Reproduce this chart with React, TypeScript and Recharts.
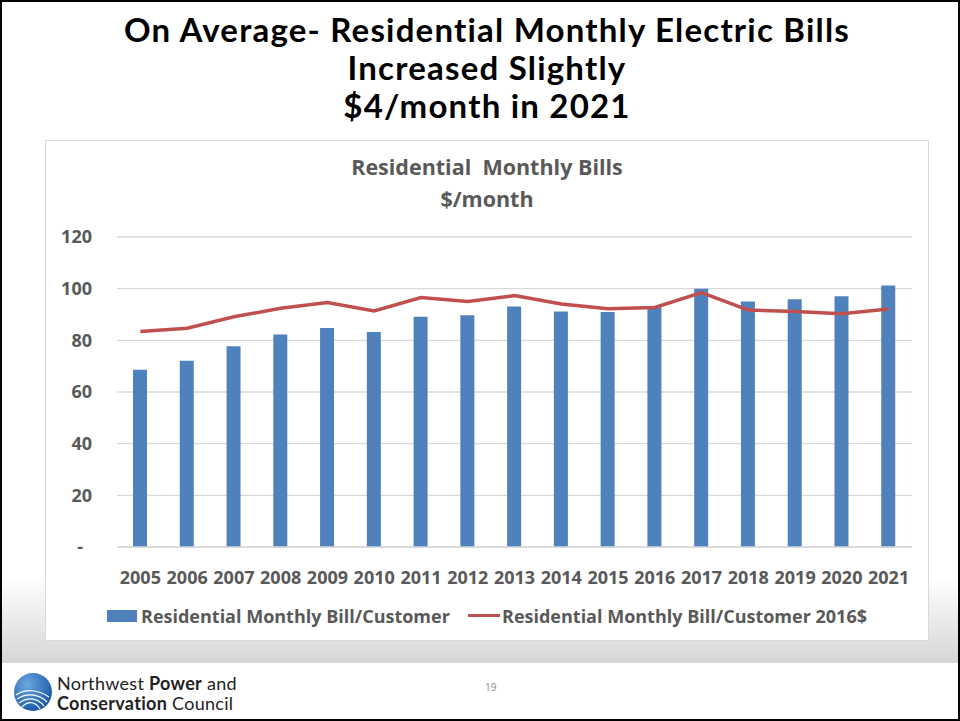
import { ComposedChart, Bar, Line, XAxis, YAxis, CartesianGrid, Legend } from "recharts";

// values ($/month)
const years = [
  "2005", "2006", "2007", "2008", "2009", "2010", "2011", "2012", "2013",
  "2014", "2015", "2016", "2017", "2018", "2019", "2020", "2021",
];
const billPerCustomer = [
  68.6, 72.1, 77.7, 82.3, 84.8, 83.2, 89.1, 89.7, 93.1,
  91.2, 91.0, 92.8, 100.0, 95.0, 95.9, 97.1, 101.2,
];
const billPerCustomer2016 = [
  83.4, 84.7, 89.1, 92.4, 94.6, 91.4, 96.6, 95.0, 97.3,
  94.1, 92.2, 92.7, 98.5, 91.7, 91.2, 90.3, 92.1,
];
const yTicks = [0, 20, 40, 60, 80, 100, 120];

const BAR_NAME = "Residential Monthly Bill/Customer";
const LINE_NAME = "Residential Monthly Bill/Customer 2016$";

const data = years.map((year, i) => ({
  year,
  bill: billPerCustomer[i],
  real: billPerCustomer2016[i],
}));

const chartFont = "'Open Sans', 'DejaVu Sans', sans-serif";
const titleFont = "Lato, 'DejaVu Sans', sans-serif";
const gray = "#595959";
const blue = "#4f81bd";
const red = "#c0504d";

function YTick({ x, y, payload }: any) {
  const v = payload.value;
  return (
    <text
      x={v === 0 ? x - 9 : x}
      y={y}
      dy="0.36em"
      textAnchor="end"
      fill={gray}
      fontSize={18}
      fontWeight={700}
      fontFamily={chartFont}
    >
      {v === 0 ? "-" : v}
    </text>
  );
}

function ChartLegend() {
  const text = {
    position: "absolute" as const,
    top: 17,
    fontSize: 18,
    fontWeight: 700,
    color: gray,
    fontFamily: chartFont,
    lineHeight: "24px",
    whiteSpace: "nowrap" as const,
  };
  return (
    <div style={{ position: "relative", height: 54, width: 884 }}>
      <div style={{ position: "absolute", left: 62, top: 23, width: 30, height: 12, background: blue }} />
      <span style={{ ...text, left: 96 }}>{BAR_NAME}</span>
      <div style={{ position: "absolute", left: 423, top: 27, width: 32, height: 3, background: red }} />
      <span style={{ ...text, left: 457 }}>{LINE_NAME}</span>
    </div>
  );
}

function Logo() {
  return (
    <svg width={40} height={42} viewBox="0 0 40 42" style={{ position: "absolute", left: 13, top: 671 }}>
      <defs>
        <radialGradient id="lg" cx="0.35" cy="0.3" r="0.8">
          <stop offset="0" stopColor="#6aa8e0" />
          <stop offset="1" stopColor="#1550a0" />
        </radialGradient>
      </defs>
      <circle cx={20} cy={21} r={19} fill="url(#lg)" />
      <path d="M3 24 C 12 18, 24 18, 36 26" stroke="#fff" strokeWidth={1.2} fill="none" />
      <path d="M4 28 C 13 22, 25 22, 34 31" stroke="#fff" strokeWidth={1.2} fill="none" />
      <path d="M6 32 C 14 26, 24 26, 31 35" stroke="#fff" strokeWidth={1.2} fill="none" />
      <path d="M9 36 C 15 30, 22 30, 27 38" stroke="#fff" strokeWidth={1.2} fill="none" />
    </svg>
  );
}

export default function App() {
  const titleLine = {
    position: "absolute" as const,
    left: 0,
    width: 974,
    textAlign: "center" as const,
    fontFamily: titleFont,
    fontWeight: 700,
    fontSize: 33,
    letterSpacing: 1.2,
    lineHeight: "38px",
    color: "#000",
  };
  const subTitle = {
    position: "absolute" as const,
    left: 45,
    width: 884,
    textAlign: "center" as const,
    fontFamily: chartFont,
    fontWeight: 700,
    fontSize: 21.5,
    lineHeight: "30px",
    color: gray,
  };
  return (
    <div
      style={{
        position: "absolute",
        left: 0,
        top: 0,
        width: 960,
        height: 721,
        boxSizing: "border-box",
        border: "2px solid #000",
        overflow: "hidden",
        background: "linear-gradient(to bottom, #fff 0px, #fff 575px, #d6d6d6 661px, #fff 661px)",
      }}
    >
      <div style={{ position: "absolute", left: -2, top: -2, width: 960, height: 721 }}>
        <div style={{ ...titleLine, top: 10 }}>On Average- Residential Monthly Electric Bills</div>
        <div style={{ ...titleLine, top: 48 }}>Increased Slightly</div>
        <div style={{ ...titleLine, top: 86 }}>$4/month in 2021</div>

        <div
          style={{
            position: "absolute",
            left: 45,
            top: 140,
            width: 884,
            height: 501,
            boxSizing: "border-box",
            border: "1px solid #d9d9d9",
            background: "#fff",
          }}
        />
        <div style={{ position: "absolute", left: 45, top: 140 }}>
          <ComposedChart
            width={884}
            height={501}
            data={data}
            margin={{ top: 97, right: 17, bottom: 0, left: 0 }}
          >
            <CartesianGrid vertical={false} stroke="#d9d9d9" strokeWidth={1.3} />
            <XAxis
              dataKey="year"
              interval={0}
              height={40}
              tickSize={0}
              tickMargin={24}
              tickLine={false}
              axisLine={{ stroke: "#d9d9d9", strokeWidth: 1.3 }}
              tick={{ fontSize: 18, fontWeight: 700, fill: gray, fontFamily: chartFont }}
            />
            <YAxis
              domain={[0, 120]}
              ticks={yTicks}
              width={72}
              tickSize={0}
              tickMargin={25}
              axisLine={false}
              tickLine={false}
              tick={<YTick />}
            />
            <Bar dataKey="bill" name={BAR_NAME} fill={blue} barSize={14} isAnimationActive={false} />
            <Line
              type="linear"
              dataKey="real"
              name={LINE_NAME}
              stroke={red}
              strokeWidth={3.5}
              dot={false}
              isAnimationActive={false}
            />
            <Legend verticalAlign="bottom" content={<ChartLegend />} />
          </ComposedChart>
        </div>
        <div style={{ ...subTitle, top: 152 }}>Residential&nbsp; Monthly Bills</div>
        <div style={{ ...subTitle, top: 184 }}>$/month</div>

        <Logo />
        <div
          style={{
            position: "absolute",
            left: 57,
            top: 673,
            fontFamily: titleFont,
            fontSize: 18,
            letterSpacing: 0.3,
            lineHeight: "20px",
            color: "#222",
            whiteSpace: "nowrap",
          }}
        >
          <div>
            Northwest <b>Power</b> and
          </div>
          <div>
            <b>Conservation</b> Council
          </div>
        </div>
        <div
          style={{
            position: "absolute",
            left: 485,
            top: 680,
            fontFamily: chartFont,
            fontSize: 10,
            color: "#8c8c8c",
          }}
        >
          19
        </div>
      </div>
    </div>
  );
}
